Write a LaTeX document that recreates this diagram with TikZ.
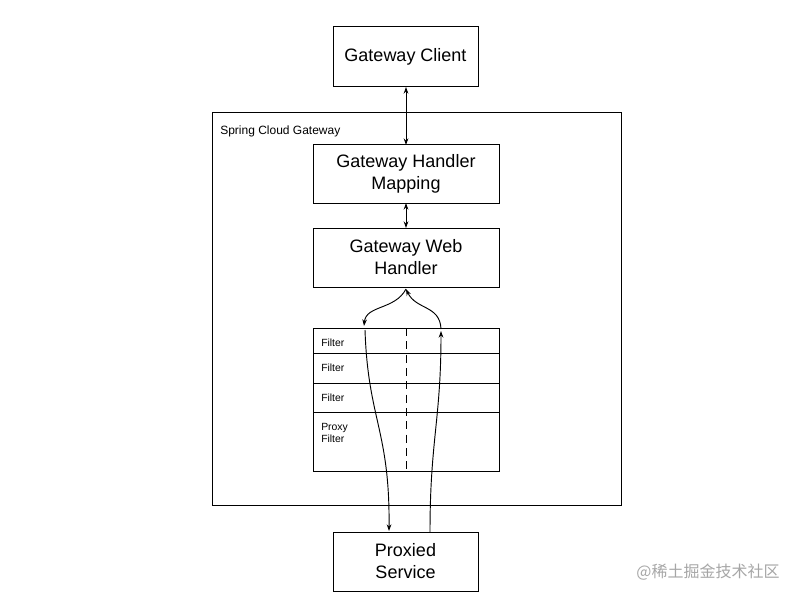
\documentclass[tikz,border=0pt]{standalone}
\usepackage{fontspec}
\setmainfont{Liberation Sans}
\newfontfamily\cjk{Noto Sans CJK SC}
\usetikzlibrary{arrows.meta}
\begin{document}
\begin{tikzpicture}[x=0.75pt,y=-0.75pt,
  box/.style={draw,line width=0.75pt,inner sep=0},
  big/.style={font=\fontsize{13.5}{16.5}\selectfont,align=center},
  small/.style={font=\fontsize{7.8}{9}\selectfont,align=left,anchor=north west,inner sep=0},
  arr/.style={-{Stealth[length=5pt,width=3.5pt]},line width=0.7pt},
  darr/.style={{Stealth[length=5pt,width=3.5pt]}-{Stealth[length=5pt,width=3.5pt]},line width=0.7pt}]
\useasboundingbox (0,0) rectangle (802,599);
\draw[box] (212,113) rectangle (621,505);
\node[small,font=\fontsize{9}{10}\selectfont] (lbl) at (220,126) {Spring Cloud Gateway};
\draw[box] (333,27) rectangle (478,87);
\node[big] (gc) at (405.5,57) {Gateway Client};
\draw[box] (313,145) rectangle (499,203);
\node[big] (hm) at (406,174) {Gateway Handler\\Mapping};
\draw[box] (313,228) rectangle (499,287);
\node[big] (wh) at (406,257.5) {Gateway Web\\Handler};
\draw[box] (313,328) rectangle (499,471);
\foreach \y in {353,383,412} \draw[line width=0.75pt] (313,\y) -- (499,\y);
\draw[dashed,dash pattern=on 6pt off 4pt,line width=0.7pt] (406,328) -- (406,471);
\node[small] (f1) at (321,339) {Filter};
\node[small] (f2) at (321,364) {Filter};
\node[small] (f3) at (321,394) {Filter};
\node[small] (f4) at (321,423) {Proxy\\Filter};
\draw[box] (333,532) rectangle (478,591);
\node[big] (ps) at (405.5,561.5) {Proxied\\Service};
\draw[darr] (406,87) -- (406,145);
\draw[darr] (406,203) -- (406,228);
\coordinate (top) at (406,289);
\coordinate (la) at (364,326);
\coordinate (ra) at (441,329);
\draw[arr] (top) .. controls (395,310) and (366,305) .. (la);
\draw[arr] (ra) .. controls (440,305) and (416,310) .. (top);
\draw[arr] (365,330) .. controls (368,420) and (390,430) .. (389,531);
\draw[arr] (430,532) .. controls (430,440) and (441,420) .. (441,331);
\node[font=\cjk\fontsize{12}{14}\selectfont,text=black!35] (wm) at (708,572) {@稀土掘金技术社区};
\end{tikzpicture}
\end{document}
